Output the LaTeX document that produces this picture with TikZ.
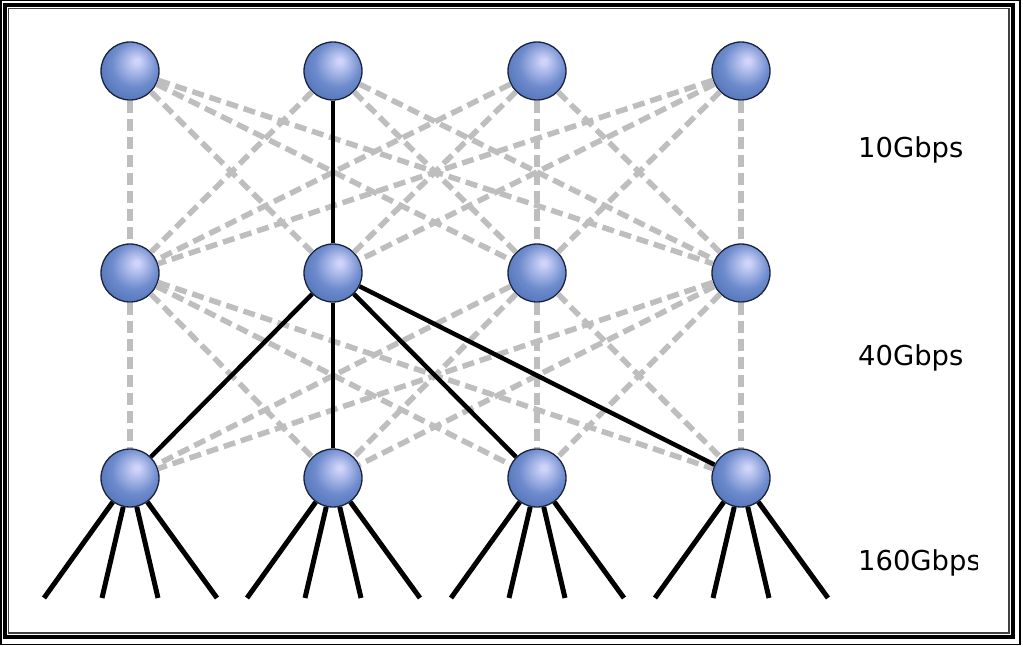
\documentclass[tikz,border=0pt]{standalone}
\usepackage{fontspec}
\setmainfont{DejaVu Sans}
\definecolor{ballhl}{RGB}{208,212,250}
\definecolor{ballmid}{RGB}{108,138,204}
\definecolor{balldark}{RGB}{62,96,166}
\definecolor{ballline}{RGB}{25,35,60}
\definecolor{edgegrey}{RGB}{190,190,190}
\pgfdeclareradialshading{myball}{\pgfqpoint{6bp}{9bp}}{color(0bp)=(ballhl); color(2bp)=(ballhl); color(20bp)=(ballmid); color(44bp)=(balldark); color(60bp)=(balldark)}
\tikzset{
  ball/.style={circle, minimum size=58pt, inner sep=0pt, draw=ballline, line width=1.3pt, shading=myball},
  gedge/.style={draw=edgegrey, line width=5.5pt, dash pattern=on 12pt off 6pt},
  bedge/.style={draw=black, line width=4.5pt},
  fan/.style={draw=black, line width=5pt},
  lbl/.style={font=\fontsize{27.4pt}{30pt}\selectfont, anchor=base west, inner sep=0pt}
}
\begin{document}
\begin{tikzpicture}[x=1pt,y=-1pt]
\useasboundingbox (0,0) rectangle (1023,647);
\fill[white] (0,0) rectangle (1023,647);
% frame
\draw[line width=1.5pt] (0.75,0.75) rectangle (1020,644.5);
\draw[line width=4pt] (5,5) rectangle (1013,637);
\draw[line width=1.5pt, black!75] (8.5,8.5) rectangle (1009,633);
% nodes
\foreach \k/\x in {1/130,2/333,3/537,4/741}{
  \node[ball] (t\k) at (\x,71) {};
  \node[ball] (m\k) at (\x,273) {};
  \node[ball] (b\k) at (\x,478) {};
  \coordinate (f\k a) at (\x-86,598);
  \coordinate (f\k b) at (\x-28,598);
  \coordinate (f\k c) at (\x+28,598);
  \coordinate (f\k d) at (\x+87,598);
}
% grey dashed links
\foreach \i in {1,...,4}{
  \foreach \j in {1,...,4}{
    \ifnum\i=2\ifnum\j=2\else\draw[gedge] (t\i) -- (m\j);\fi\else\draw[gedge] (t\i) -- (m\j);\fi
    \ifnum\i=2\else\draw[gedge] (m\i) -- (b\j);\fi
  }
}
% black links
\draw[bedge] (t2) -- (m2);
\foreach \j in {1,...,4}{\draw[bedge] (m2) -- (b\j);}
% fans
\foreach \k in {1,...,4}{
  \foreach \s in {a,b,c,d}{\draw[fan] (b\k) -- (f\k\s);}
}
% labels
\node[lbl] (l10) at (858,158) {10Gbps};
\node[lbl] (l40) at (858,365) {40Gbps};
\begin{scope}
\clip (850,530) rectangle (977,590);
\node[lbl] (l160) at (858,570) {160Gbps};
\end{scope}
\end{tikzpicture}
\end{document}
